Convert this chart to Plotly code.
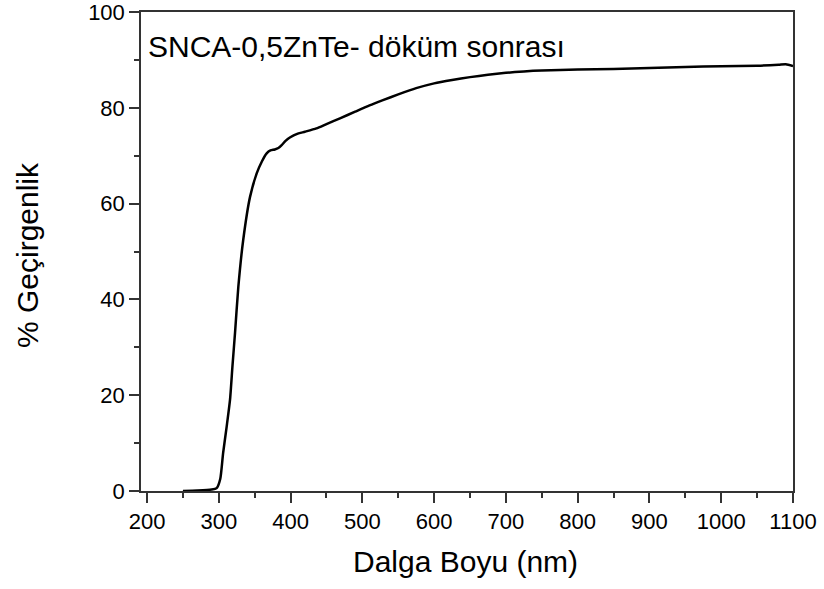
import plotly.graph_objects as go

wavelength = [250, 270, 290, 297, 302, 306, 311, 315.6, 319, 322.6, 327.2, 334, 343.5, 352.8, 360, 366.7, 372, 378, 383, 387.6, 393, 399, 410, 420, 436, 450, 468.8, 490, 510, 528.7, 550, 575, 600, 625, 650, 675, 700, 725, 750, 800, 850, 900, 950, 1000, 1050, 1080, 1090, 1100]
transmittance = [0.0, 0.1, 0.3, 0.6, 2.5, 7.9, 13.5, 19.0, 26.0, 33.0, 42.6, 52.4, 61.4, 66.3, 68.8, 70.5, 71.1, 71.3, 71.6, 72.2, 73.1, 73.8, 74.6, 75.0, 75.7, 76.6, 77.8, 79.2, 80.5, 81.6, 82.8, 84.1, 85.1, 85.8, 86.4, 86.9, 87.3, 87.6, 87.8, 88.0, 88.1, 88.3, 88.5, 88.7, 88.8, 89.0, 89.1, 88.7]

x_ticks = [200, 300, 400, 500, 600, 700, 800, 900, 1000, 1100]
y_ticks = [0, 20, 40, 60, 80, 100]

title_text = "SNCA-0,5ZnTe- döküm sonrası"
x_title = "Dalga Boyu (nm)"
y_title = "% Geçirgenlik"

FONT = "Liberation Sans, Arial, sans-serif"

fig = go.Figure()
fig.add_trace(go.Scatter(x=wavelength, y=transmittance, mode="lines",
                         line=dict(color="black", width=2.5, shape="spline", smoothing=0.6),
                         showlegend=False))

fig.update_layout(
    width=824, height=589,
    margin=dict(l=141, r=31, t=12, b=98),
    paper_bgcolor="white", plot_bgcolor="white",
    font=dict(family=FONT, color="black"),
    xaxis=dict(range=[191.6, 1100], tickvals=x_ticks, ticks="outside", ticklen=10, tickwidth=1.5,
               tickcolor="#333", showline=True, linecolor="#333", linewidth=1.5, mirror=True,
               showgrid=False, zeroline=False, tickfont=dict(size=22, family=FONT), automargin=False,
               ticklabeloverflow="allow",
               minor=dict(dtick=50, tick0=200, ticks="outside", ticklen=5, tickwidth=1.5, tickcolor="#333")),
    yaxis=dict(range=[0, 100], tickvals=y_ticks, ticks="outside", ticklen=10, tickwidth=1.5,
               tickcolor="#333", showline=True, linecolor="#333", linewidth=1.5, mirror=True,
               showgrid=False, zeroline=False, tickfont=dict(size=22, family=FONT), automargin=False,
               ticklabeloverflow="allow",
               minor=dict(dtick=10, tick0=0, ticks="outside", ticklen=5, tickwidth=1.5, tickcolor="#333")),
    annotations=[
        dict(text=title_text, xref="paper", yref="paper", x=0.007, y=0.928,
             xanchor="left", yanchor="middle", showarrow=False,
             font=dict(size=30, family=FONT, color="black")),
        dict(text=x_title, xref="paper", yref="paper", x=0.498, y=-0.148,
             xanchor="center", yanchor="middle", showarrow=False,
             font=dict(size=30, family=FONT, color="black")),
        dict(text=y_title, xref="paper", yref="paper", x=-0.173, y=0.493, textangle=-90,
             xanchor="center", yanchor="middle", showarrow=False,
             font=dict(size=30, family=FONT, color="black")),
    ],
)

fig.write_html("out.html")
